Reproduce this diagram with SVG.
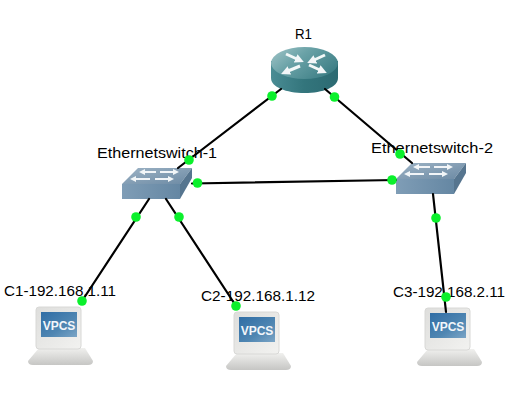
<svg xmlns="http://www.w3.org/2000/svg" xmlns:xlink="http://www.w3.org/1999/xlink" width="524" height="412" viewBox="0 0 524 412">
<style>
.lbl{font-family:"Liberation Sans","DejaVu Sans",sans-serif;font-size:14px;fill:#000}
.link{stroke:#000;stroke-width:2.2;fill:none;stroke-linecap:round}
.dot{fill:#0bf02c}
.swarrow{fill:none;stroke:#f2f5f8;stroke-width:2;marker-end:url(#head)}
.rarrow{fill:none;stroke:#f2f8f8;stroke-width:3;marker-end:url(#head)}
</style>
<defs>
<marker id="head" viewBox="0 0 6 6" refX="1" refY="3" markerWidth="3" markerHeight="3" orient="auto"><path d="M0 0L6 3L0 6Z" fill="#f2f6f8"/></marker>
<linearGradient id="rtop" x1="0" y1="0" x2="1" y2="0.6"><stop offset="0" stop-color="#a3c6c9"/><stop offset="0.45" stop-color="#6aa2a7"/><stop offset="1" stop-color="#3f8087"/></linearGradient>
<linearGradient id="rbody" x1="0" y1="0" x2="1" y2="0"><stop offset="0" stop-color="#4a8c94"/><stop offset="0.5" stop-color="#33757c"/><stop offset="1" stop-color="#2c6a72"/></linearGradient>
<linearGradient id="swtop" x1="0" y1="0" x2="1" y2="1"><stop offset="0" stop-color="#9db3c5"/><stop offset="1" stop-color="#6c8aa4"/></linearGradient>
<linearGradient id="swfront" x1="0" y1="0" x2="1" y2="0"><stop offset="0" stop-color="#7f9db6"/><stop offset="1" stop-color="#6587a3"/></linearGradient>
<linearGradient id="scr" x1="0" y1="0" x2="1" y2="1"><stop offset="0" stop-color="#2f6da5"/><stop offset="0.6" stop-color="#4f86b2"/><stop offset="1" stop-color="#7ba5c6"/></linearGradient>
<linearGradient id="base" x1="0" y1="0" x2="0" y2="1"><stop offset="0" stop-color="#f0f0ee"/><stop offset="1" stop-color="#c6c6c4"/></linearGradient>
<linearGradient id="mon" x1="0" y1="0" x2="1" y2="1"><stop offset="0" stop-color="#dededc"/><stop offset="1" stop-color="#f2f2f0"/></linearGradient>
<g id="pc">
<path d="M3 41H49L57 54Q57 58 52 58H-3Q-8 58 -8 54Z" fill="url(#base)"/>
<rect x="0" y="0" width="45" height="42" rx="3" fill="url(#mon)" stroke="#d8d8d6"/>
<rect x="5" y="5" width="36" height="25" fill="url(#scr)"/>
<text x="23" y="23" text-anchor="middle" font-family="'Liberation Sans',sans-serif" font-size="12" font-weight="700" fill="#f2f6fa">VPCS</text>
</g>
<g id="sw">
<path d="M16 0H70L58 16H0Z" fill="url(#swtop)"/>
<path d="M0 16H58V31H0Z" fill="url(#swfront)"/>
<path d="M58 16L70 0V10L58 31Z" fill="#56758f"/>
<path class="swarrow" d="M34 4H22"/>
<path class="swarrow" d="M38 4H52"/>
<path class="swarrow" d="M28 11H13"/>
<path class="swarrow" d="M33 11H47"/>
</g>
</defs>
<rect width="524" height="412" fill="#fff"/>
<g id="R1">
<path d="M271 61V78C271 87 286 93 304.500 93S338 87 338 78V61Z" fill="url(#rbody)"/>
<ellipse cx="304.500" cy="63" rx="33.500" ry="16" fill="url(#rtop)"/>
<path class="rarrow" d="M286 54L297 59"/>
<path class="rarrow" d="M325 55L314 60"/>
<path class="rarrow" d="M300 66L288 71"/>
<path class="rarrow" d="M309 65L320 70"/>
<text class="lbl" x="295" y="39" textLength="17" lengthAdjust="spacingAndGlyphs">R1</text>
</g>
<g id="Ethernetswitch-1">
<use xlink:href="#sw" href="#sw" transform="translate(122,168)"/>
<text class="lbl" x="97" y="158" textLength="120" lengthAdjust="spacingAndGlyphs">Ethernetswitch-1</text>
</g>
<g id="Ethernetswitch-2">
<use xlink:href="#sw" href="#sw" transform="translate(396,163)"/>
<text class="lbl" x="371" y="153" textLength="122" lengthAdjust="spacingAndGlyphs">Ethernetswitch-2</text>
</g>
<g id="C1">
<use xlink:href="#pc" href="#pc" transform="translate(36,307)"/>
<text class="lbl" x="4" y="296" textLength="112" lengthAdjust="spacingAndGlyphs">C1-192.168.1.11</text>
</g>
<g id="C2">
<use xlink:href="#pc" href="#pc" transform="translate(234,312)"/>
<text class="lbl" x="201" y="301" textLength="114" lengthAdjust="spacingAndGlyphs">C2-192.168.1.12</text>
</g>
<g id="C3">
<use xlink:href="#pc" href="#pc" transform="translate(425,308)"/>
<text class="lbl" x="393" y="297" textLength="112" lengthAdjust="spacingAndGlyphs">C3-192.168.2.11</text>
</g>
<g id="connectors">
<path class="link" d="M281 89L178 168"/>
<path class="link" d="M325 89L412 163"/>
<path class="link" d="M192 183.500L396 180"/>
<path class="link" d="M149 199L82 301"/>
<path class="link" d="M166 199L236 306"/>
<path class="link" d="M433 194L446 312"/>
<circle class="dot" cx="272" cy="96" r="4.800"/>
<circle class="dot" cx="334.500" cy="97" r="4.800"/>
<circle class="dot" cx="189" cy="160" r="4.800"/>
<circle class="dot" cx="400" cy="154" r="4.800"/>
<circle class="dot" cx="197.500" cy="183" r="4.800"/>
<circle class="dot" cx="392" cy="180" r="4.800"/>
<circle class="dot" cx="136" cy="217" r="4.800"/>
<circle class="dot" cx="179" cy="217" r="4.800"/>
<circle class="dot" cx="436" cy="218" r="4.800"/>
<circle class="dot" cx="82" cy="301" r="4.800"/>
<circle class="dot" cx="236" cy="306" r="4.800"/>
<circle class="dot" cx="446" cy="297" r="4.800"/>
</g>
</svg>
